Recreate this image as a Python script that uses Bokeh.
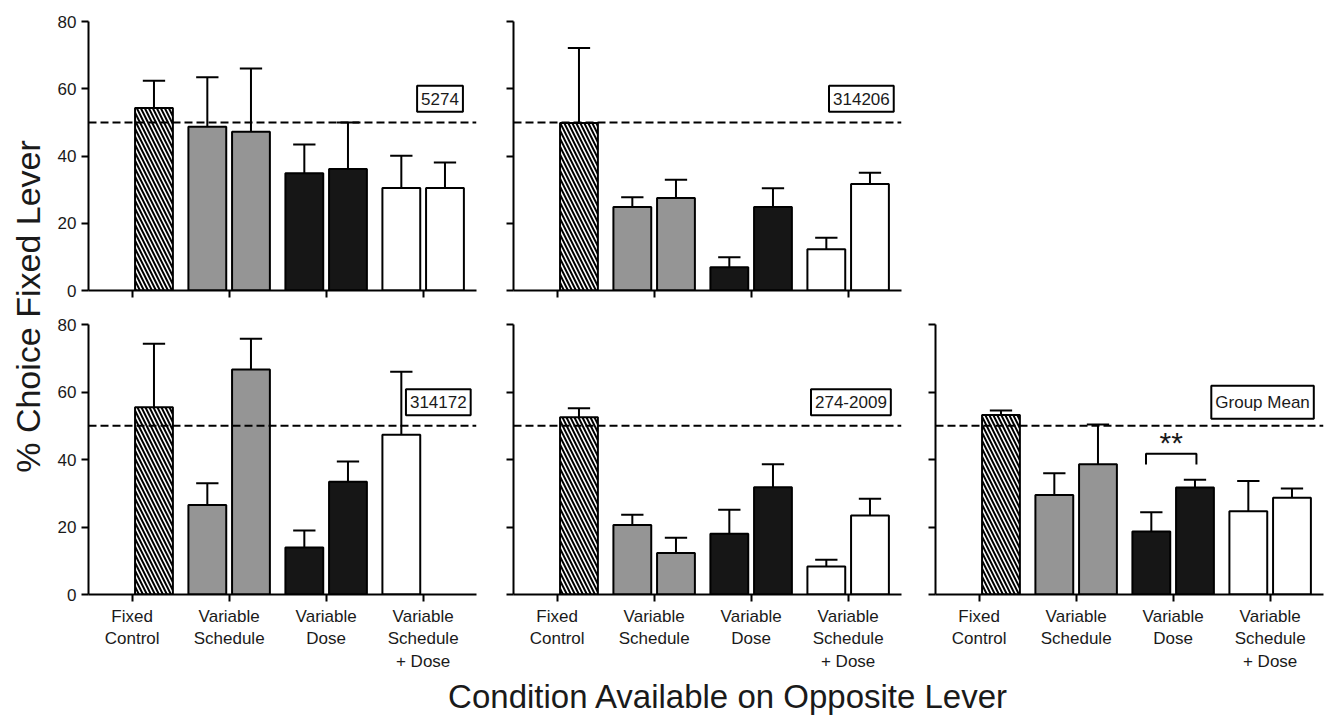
import numpy as np
from bokeh.plotting import figure
from bokeh.models import FixedTicker, Label, Spacer, Range1d, Span, ColumnDataSource
from bokeh.layouts import row, column
from bokeh.embed import file_html
from bokeh.resources import INLINE
from bokeh.core.properties import value

# ---------------- data ----------------
categories = ["Fixed\nControl", "Variable\nSchedule", "Variable\nDose", "Variable\nSchedule\n+ Dose"]
panel_names = ["5274", "314206", "314172", "274-2009", "Group Mean"]
# bar order: fixed control | variable schedule (2) | variable dose (2) | variable schedule + dose (2)
bar_condition = [0, 1, 1, 2, 2, 3, 3]

means_5274 = [54.3, 48.7, 47.2, 34.9, 36.1, 30.5, 30.5]
sem_5274 = [8.1, 14.7, 18.8, 8.5, 13.9, 9.6, 7.6]

means_314206 = [49.8, 24.8, 27.5, 6.9, 24.8, 12.3, 31.7]
sem_314206 = [22.3, 2.9, 5.4, 3.0, 5.6, 3.4, 3.3]

means_314172 = [55.5, 26.5, 66.7, 13.9, 33.4, 47.3, None]
sem_314172 = [18.8, 6.5, 9.1, 5.1, 6.0, 18.7, None]

means_274_2009 = [52.5, 20.6, 12.3, 18.0, 31.8, 8.3, 23.4]
sem_274_2009 = [2.7, 3.0, 4.5, 7.1, 6.8, 2.0, 5.0]

means_group = [53.2, 29.5, 38.6, 18.7, 31.7, 24.7, 28.7]
sem_group = [1.3, 6.4, 11.8, 5.7, 2.3, 8.9, 2.7]

chance_level = 50
y_ticks = [0, 20, 40, 60, 80]
y_max = 80
sig_label = "**"

FONT = "Liberation Sans"
TXT = "#1a1a1a"

# ---------------- styling helpers ----------------
SLOT = [1, -1, 1, -1, 1, -1, 1]   # left/right slot within a condition
OFF = 0.225
BAR_W = 0.39
FILLS = ["white", "#959595", "#959595", "#161616", "#161616", "white", "white"]
HATCH = ["\\", " ", " ", " ", " ", " ", " "]


def make_panel(name, means, sems, width, height, bl, br, bt, bb,
               ylabels, xlabels, label_x):
    p = figure(width=width, height=height,
               x_range=Range1d(-0.45, 3.55), y_range=Range1d(0, y_max),
               output_backend="svg", toolbar_location=None,
               min_border_left=bl, min_border_right=br,
               min_border_top=bt, min_border_bottom=bb)
    p.outline_line_color = None
    p.grid.visible = False
    p.background_fill_color = "white"

    p.add_layout(Span(location=chance_level, dimension="width",
                      line_color="black", line_width=2, line_dash="8 4"))

    xs, tops, fills, hatches, errs = [], [], [], [], []
    for k, (m, s) in enumerate(zip(means, sems)):
        if m is None:
            continue
        x = bar_condition[k] + SLOT[k] * OFF
        xs.append(x)
        tops.append(m)
        fills.append(FILLS[k])
        hatches.append(HATCH[k])
        errs.append(m + s)
    src = ColumnDataSource(dict(x=xs, top=tops, fill=fills, hatch=hatches, err=errs,
                                cl=[x - 0.115 for x in xs], cr=[x + 0.115 for x in xs]))
    p.segment(x0="x", y0="top", x1="x", y1="err", source=src, line_color="black", line_width=2)
    p.segment(x0="cl", y0="err", x1="cr", y1="err", source=src, line_color="black", line_width=2)
    p.vbar(x="x", top="top", bottom=0, width=BAR_W, source=src,
           fill_color="fill", line_color="black", line_width=2,
           hatch_pattern="hatch", hatch_color="black", hatch_scale=8, hatch_weight=2)

    # axes
    p.xaxis.ticker = FixedTicker(ticks=[0, 1, 2, 3])
    p.yaxis.ticker = FixedTicker(ticks=y_ticks)
    for ax in (p.xaxis[0], p.yaxis[0]):
        ax.axis_line_width = 2
        ax.axis_line_color = "black"
        ax.major_tick_line_width = 2
        ax.major_tick_line_color = "black"
        ax.major_tick_out = 7
        ax.major_tick_in = 0
        ax.minor_tick_line_color = None
        ax.major_label_text_font = FONT
        ax.major_label_text_font_size = "17px"
        ax.major_label_text_color = TXT
    p.yaxis.major_label_standoff = 5
    p.xaxis.major_label_standoff = 5
    if xlabels:
        p.xaxis.major_label_overrides = {i: c for i, c in enumerate(categories)}
    else:
        p.xaxis.major_label_overrides = {i: "" for i in range(4)}
        p.xaxis.major_label_standoff = 0
    if not ylabels:
        p.yaxis.major_label_overrides = {t: "" for t in y_ticks}
        p.yaxis.major_label_standoff = 0

    p.add_layout(Label(x=label_x, y=57, text=name, text_align="right", text_baseline="middle",
                       text_font=FONT, text_font_size="17px", text_color=TXT,
                       border_line_color="black", border_line_width=2,
                       background_fill_color="white", padding=(4, 7)))
    return p


LW = 48
W1, W2, W3 = 452, 420, 405
H1, H2, H3 = 306, 370, 40

p1 = make_panel(panel_names[0], means_5274, sem_5274, W1, H1, 40, 24, 21, 16, True, False, 3.41)
p2 = make_panel(panel_names[1], means_314206, sem_314206, W2, H1, 13, 19, 21, 16, False, False, 3.47)
p3 = make_panel(panel_names[2], means_314172, sem_314172, W1, H2, 40, 24, 18, 82, True, True, 3.49)
p4 = make_panel(panel_names[3], means_274_2009, sem_274_2009, W2, H2, 13, 19, 18, 82, False, True, 3.44)
p5 = make_panel(panel_names[4], means_group, sem_group, W3, H2, 15, 2, 18, 82, False, True, 3.45)

# significance bracket between the two variable-dose bars of the group mean
bx0, bx1 = 1.72, 2.24
p5.line(x=[bx0, bx0, bx1, bx1], y=[38.5, 41.7, 41.7, 38.5], line_color="black", line_width=2)
p5.text(x=[(bx0 + bx1) / 2], y=[45.0], text=[sig_label], text_align="center", text_baseline="middle",
        text_font=value(FONT), text_font_size="30px", text_color=TXT)

# y-axis title
lf = figure(width=LW, height=H1 + H2, x_range=Range1d(0, LW), y_range=Range1d(0, H1 + H2),
            x_axis_type=None, y_axis_type=None, output_backend="svg", toolbar_location=None,
            min_border=0, title=None)
lf.outline_line_color = None
lf.grid.visible = False
lf.text(x=[27], y=[H1 + H2 - 306], text=["% Choice Fixed Lever"], angle=np.pi / 2,
        text_align="center", text_baseline="middle",
        text_font=value(FONT), text_font_size="34px", text_color=TXT)

# x-axis title
TOTAL_W = LW + W1 + W2 + W3
bf = figure(width=TOTAL_W, height=H3, x_range=Range1d(0, TOTAL_W), y_range=Range1d(0, H3),
            x_axis_type=None, y_axis_type=None, output_backend="svg", toolbar_location=None,
            min_border=0, title=None)
bf.outline_line_color = None
bf.grid.visible = False
bf.text(x=[728], y=[H3 - 20], text=["Condition Available on Opposite Lever"],
        text_align="center", text_baseline="middle",
        text_font=value(FONT), text_font_size="33px", text_color=TXT)

layout = column(
    row(lf, column(row(p1, p2, Spacer(width=W3, height=H1)), row(p3, p4, p5))),
    bf,
)

open("out.html", "w").write(file_html(layout, INLINE))
